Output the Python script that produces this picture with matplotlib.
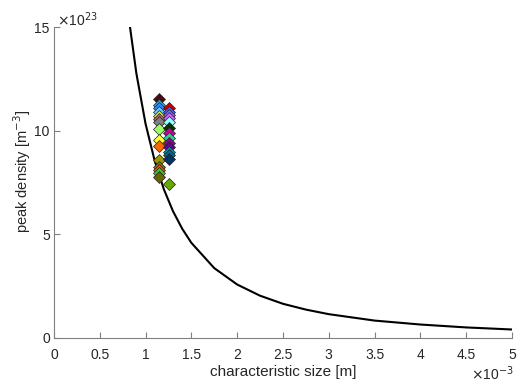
import matplotlib
matplotlib.use("Agg")
import matplotlib.pyplot as plt

plt.rcParams['font.family'] = ['Liberation Sans', 'DejaVu Sans']

# curve (x in 1e-3 m, y in 1e23 m^-3)
curve_x = [0.83, 0.9, 1.0, 1.1, 1.2, 1.3, 1.4, 1.5, 1.75, 2.0, 2.25, 2.5, 2.75, 3.0, 3.5, 4.0, 4.5, 5.0]
curve_y = [15.0, 12.75, 10.33, 8.54, 7.17, 6.11, 5.27, 4.59, 3.37, 2.58, 2.04, 1.65, 1.37, 1.15, 0.84, 0.65, 0.51, 0.41]

# diamonds, column 1
col1_x = 1.15
col1_y = [11.55, 11.25, 11.1, 10.92, 10.71, 10.55, 10.44, 10.1, 9.55, 9.26, 8.59, 8.23, 8.1, 7.96, 7.78]
col1_c = ['#4a0a14', '#19b3e6', '#3388ff', '#66ccff', '#e6e64d', '#b36666', '#808080', '#99ff66',
          '#ffff33', '#ff6600', '#999900', '#996633', '#cc6600', '#33cc33', '#666600']
# diamonds, column 2
col2_x = 1.26
col2_y = [11.08, 10.92, 10.76, 10.6, 10.44, 10.15, 9.87, 9.63, 9.39, 9.2, 8.99, 8.83, 8.63, 7.43]
col2_c = ['#cc0000', '#4466ff', '#8866ff', '#cc66ff', '#99ffff', '#003300', '#cc0099', '#33cc99',
          '#990099', '#660099', '#009999', '#006699', '#003366', '#66aa00']

x_ticks = [0, 0.5, 1, 1.5, 2, 2.5, 3, 3.5, 4, 4.5, 5]
x_ticklabels = ['0', '0.5', '1', '1.5', '2', '2.5', '3', '3.5', '4', '4.5', '5']
y_ticks = [0, 5, 10, 15]
y_ticklabels = ['0', '5', '10', '15']

fig = plt.figure(figsize=(5.17, 3.83), dpi=100)
ax = fig.add_axes([0.1044, 0.1175, 0.8858, 0.812])

ax.plot(curve_x, curve_y, color='black', lw=1.5, zorder=2)
for y, c in zip(col1_y, col1_c):
    ax.plot([col1_x], [y], marker='D', ms=6.5, mfc=c, mec='#222222', mew=0.5, ls='none', zorder=3)
for y, c in zip(col2_y, col2_c):
    ax.plot([col2_x], [y], marker='D', ms=6.5, mfc=c, mec='#222222', mew=0.5, ls='none', zorder=3)

ax.set_xlim(0, 5)
ax.set_ylim(0, 15)
ax.set_xticks(x_ticks)
ax.set_xticklabels(x_ticklabels)
ax.set_yticks(y_ticks)
ax.set_yticklabels(y_ticklabels)
ax.spines['top'].set_visible(False)
ax.spines['right'].set_visible(False)
for s in ['left', 'bottom']:
    ax.spines[s].set_color('#808080')
    ax.spines[s].set_linewidth(0.8)
ax.tick_params(direction='in', length=4, width=0.8, color='#808080', labelsize=10, labelcolor='#262626')
ax.tick_params(axis='x', pad=7)
ax.tick_params(axis='y', pad=3)
ax.set_xlabel('characteristic size [m]', fontsize=11, color='#262626')
ax.set_ylabel('peak density [m$^{-3}$]', fontsize=10.5, color='#262626')
ax.xaxis.set_label_coords(0.5, -0.088)
ax.yaxis.set_label_coords(-0.045, 0.535)

ax.text(0.007, 1.003, r'$\times$10$^{23}$', transform=ax.transAxes, fontsize=10, color='#262626',
        ha='left', va='baseline')
ax.text(1.003, -0.135, r'$\times$10$^{-3}$', transform=ax.transAxes, fontsize=10, color='#262626',
        ha='right', va='baseline')

fig.savefig('out.png', dpi=100)
